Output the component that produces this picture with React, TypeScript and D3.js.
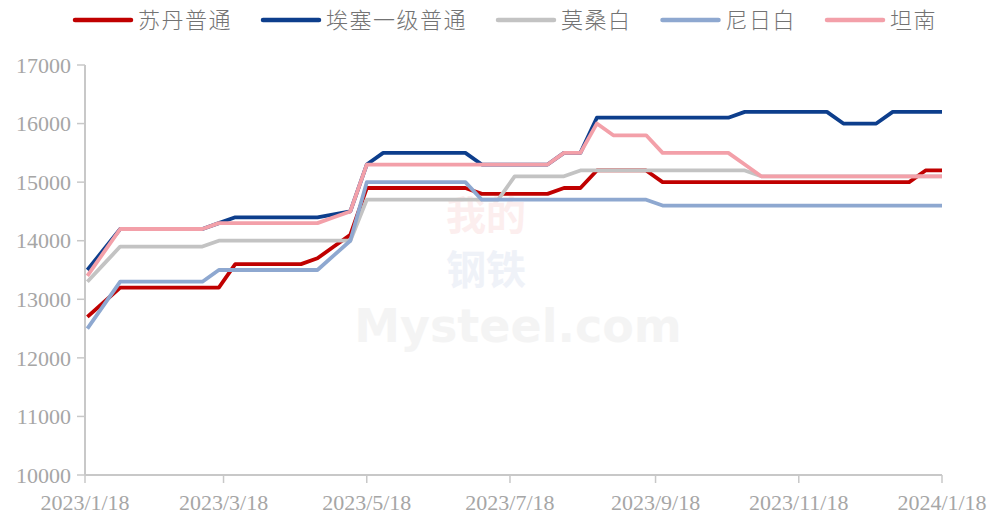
import React from "react";
import * as d3 from "d3";

const dates = [
  "2023-01-19","2023-01-26","2023-02-02","2023-02-09","2023-02-16","2023-02-23",
  "2023-03-02","2023-03-09","2023-03-16","2023-03-23","2023-03-30","2023-04-06",
  "2023-04-13","2023-04-20","2023-04-27","2023-05-04","2023-05-11","2023-05-18",
  "2023-05-25","2023-06-01","2023-06-08","2023-06-15","2023-06-22","2023-06-29",
  "2023-07-06","2023-07-13","2023-07-20","2023-07-27","2023-08-03","2023-08-10",
  "2023-08-17","2023-08-24","2023-08-31","2023-09-07","2023-09-14","2023-09-21",
  "2023-09-28","2023-10-05","2023-10-12","2023-10-19","2023-10-26","2023-11-02",
  "2023-11-09","2023-11-16","2023-11-23","2023-11-30","2023-12-07","2023-12-14",
  "2023-12-21","2023-12-28","2024-01-04","2024-01-11","2024-01-18",
];

const sudan = [
  12700,12950,13200,13200,13200,13200,13200,13200,13200,13600,13600,13600,13600,13600,
  13700,13900,14100,14900,14900,14900,14900,14900,14900,14900,14800,14800,14800,14800,
  14800,14900,14900,15200,15200,15200,15200,15000,15000,15000,15000,15000,15000,15000,
  15000,15000,15000,15000,15000,15000,15000,15000,15000,15200,15200,
];
const ethiopia = [
  13500,13850,14200,14200,14200,14200,14200,14200,14300,14400,14400,14400,14400,14400,
  14400,14450,14500,15300,15500,15500,15500,15500,15500,15500,15300,15300,15300,15300,
  15300,15500,15500,16100,16100,16100,16100,16100,16100,16100,16100,16100,16200,16200,
  16200,16200,16200,16200,16000,16000,16000,16200,16200,16200,16200,
];
const mozambique = [
  13300,13600,13900,13900,13900,13900,13900,13900,14000,14000,14000,14000,14000,14000,
  14000,14000,14000,14700,14700,14700,14700,14700,14700,14700,14700,14700,15100,15100,
  15100,15100,15200,15200,15200,15200,15200,15200,15200,15200,15200,15200,15200,15100,
  15100,15100,15100,15100,15100,15100,15100,15100,15100,15100,15100,
];
const niger = [
  12500,12900,13300,13300,13300,13300,13300,13300,13500,13500,13500,13500,13500,13500,
  13500,13750,14000,15000,15000,15000,15000,15000,15000,15000,14700,14700,14700,14700,
  14700,14700,14700,14700,14700,14700,14700,14600,14600,14600,14600,14600,14600,14600,
  14600,14600,14600,14600,14600,14600,14600,14600,14600,14600,14600,
];
const tanzania = [
  13400,13800,14200,14200,14200,14200,14200,14200,14300,14300,14300,14300,14300,14300,
  14300,14400,14500,15300,15300,15300,15300,15300,15300,15300,15300,15300,15300,15300,
  15300,15500,15500,16000,15800,15800,15800,15500,15500,15500,15500,15500,15300,15100,
  15100,15100,15100,15100,15100,15100,15100,15100,15100,15100,15100,
];

const seriesNames = ["苏丹普通", "埃塞一级普通", "莫桑白", "尼日白", "坦南"];
const seriesValues = [sudan, ethiopia, mozambique, niger, tanzania];
const seriesColors = ["#C00000", "#0D3E8C", "#C3C3C3", "#8EA8D0", "#F3A0A9"];

const yTicks = [10000, 11000, 12000, 13000, 14000, 15000, 16000, 17000];
const xTickDates = [
  "2023-01-18","2023-03-18","2023-05-18","2023-07-18","2023-09-18","2023-11-18","2024-01-18",
];
const xTickLabels = [
  "2023/1/18","2023/3/18","2023/5/18","2023/7/18","2023/9/18","2023/11/18","2024/1/18",
];

const W = 994;
const H = 517;
const M = { left: 85, right: 52, top: 65, bottom: 42 };

const parse = d3.utcParse("%Y-%m-%d");

export default function App() {
  const x = d3
    .scaleUtc()
    .domain([parse("2023-01-18")!, parse("2024-01-18")!])
    .range([M.left, W - M.right]);
  const y = d3.scaleLinear().domain([10000, 17000]).range([H - M.bottom, M.top]);

  const line = d3
    .line<number>()
    .x((_, i) => x(parse(dates[i])!))
    .y((v) => y(v));

  const axisColor = "#C8C8C8";
  const tickText = "#A6A6A6";
  const serif = "'Liberation Serif', 'Times New Roman', serif";
  const cjk = "'Noto Sans CJK SC', sans-serif";

  const legendCharW = 23.5;
  let lx = 75;
  const legendItems = seriesNames.map((name, i) => {
    const start = lx;
    lx += 56 + 7 + name.length * legendCharW + 31;
    return { name, color: seriesColors[i], start };
  });

  const y0 = H - M.bottom;

  return (
    <svg
      width={W}
      height={H}
      style={{ position: "absolute", left: 0, top: 0, background: "#fff" }}
    >
      {/* watermark */}
      <g opacity={0.45}>
        <text x={486} y={230} textAnchor="middle" fontFamily={cjk} fontSize={40} fontWeight={700} fill="#FADADA">
          我的
        </text>
        <text x={486} y={284} textAnchor="middle" fontFamily={cjk} fontSize={40} fontWeight={700} fill="#DCE3F1">
          钢铁
        </text>
        <text x={518} y={342} textAnchor="middle" fontFamily="'DejaVu Sans', sans-serif" fontSize={46} fontWeight={700} fill="#E8E8E8">
          Mysteel.com
        </text>
      </g>

      {/* y axis */}
      <line x1={M.left} x2={M.left} y1={M.top} y2={y0} stroke={axisColor} strokeWidth={2} />
      {yTicks.map((t) => (
        <g key={t}>
          <line x1={M.left - 8} x2={M.left} y1={y(t)} y2={y(t)} stroke={axisColor} strokeWidth={1.5} />
          <text
            x={M.left - 14}
            y={y(t)}
            dy="0.35em"
            textAnchor="end"
            fontFamily={serif}
            fontSize={22}
            fill={tickText}
          >
            {t}
          </text>
        </g>
      ))}

      {/* x axis */}
      <line x1={M.left} x2={W - M.right} y1={y0} y2={y0} stroke={axisColor} strokeWidth={2} />
      {xTickDates.map((d, i) => {
        const px = x(parse(d)!);
        return (
          <g key={d}>
            <line x1={px} x2={px} y1={y0} y2={y0 + 8} stroke={axisColor} strokeWidth={1.5} />
            <text
              x={px}
              y={y0 + 35}
              textAnchor="middle"
              fontFamily={serif}
              fontSize={22}
              fill={tickText}
            >
              {xTickLabels[i]}
            </text>
          </g>
        );
      })}

      {/* series */}
      {seriesValues.map((vals, i) => (
        <path
          key={seriesNames[i]}
          d={line(vals) || ""}
          fill="none"
          stroke={seriesColors[i]}
          strokeWidth={3.8}
          strokeLinejoin="round"
        />
      ))}

      {/* legend */}
      {legendItems.map((it) => (
        <g key={it.name}>
          <line
            x1={it.start}
            x2={it.start + 56}
            y1={20}
            y2={20}
            stroke={it.color}
            strokeWidth={4.5}
            strokeLinecap="round"
          />
          <text
            x={it.start + 63}
            y={20}
            dy="0.36em"
            fontFamily={cjk}
            fontWeight={300}
            fontSize={22}
            fill="#737373"
            style={{ letterSpacing: "1.5px" }}
          >
            {it.name}
          </text>
        </g>
      ))}
    </svg>
  );
}
